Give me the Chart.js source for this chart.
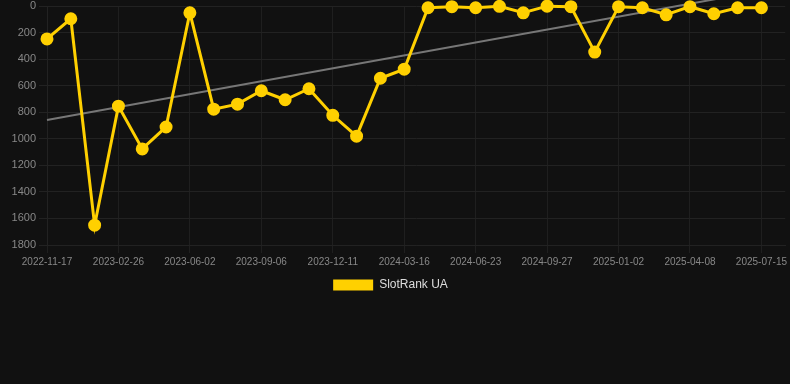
<!DOCTYPE html>
<html>
<head>
<meta charset="utf-8">
<script src="https://cdn.jsdelivr.net/npm/chart.js@4/dist/chart.umd.min.js"></script>
<style>
    body { margin: 0; background: #111111; }
    #wrap { width: 790px; height: 301px; position: relative; }
</style>
</head>
<body>
<div id="wrap"><canvas id="rankChart"></canvas></div>

<script>
    // dates of each sample (last slot is empty, only the trend reaches it)
    const dates = [
        '2022-11-17', '2022-12-21', '2023-01-24', '2023-02-26', '2023-03-30', '2023-05-01',
        '2023-06-02', '2023-07-04', '2023-08-05', '2023-09-06', '2023-10-08', '2023-11-09',
        '2023-12-11', '2024-01-12', '2024-02-13', '2024-03-16', '2024-04-18', '2024-05-21',
        '2024-06-23', '2024-07-25', '2024-08-26', '2024-09-27', '2024-10-29', '2024-12-01',
        '2025-01-02', '2025-02-03', '2025-03-07', '2025-04-08', '2025-05-10', '2025-06-12',
        '2025-07-15', ''
    ];

    const rankUA = [
        248, 96, 1651, 754, 1076, 911,
        51, 777, 739, 638, 706, 623,
        823, 980, 544, 476, 13, 5,
        13, 2, 51, 1, 5, 347,
        5, 13, 66, 5, 58, 13,
        13
    ];

    const trendStart = 858;
    const trendEnd = -147;

    const trendData = dates.map((d, i) => i === 0 ? trendStart : (i === dates.length - 1 ? trendEnd : null));

    const ctx = document.getElementById('rankChart').getContext('2d');
    new Chart(ctx, {
        type: 'line',
        data: {
            labels: dates,
            datasets: [
                {
                    label: 'SlotRank UA',
                    data: rankUA,
                    borderColor: '#ffd000',
                    backgroundColor: '#ffd000',
                    borderWidth: 3,
                    pointRadius: 5,
                    pointHoverRadius: 5,
                    tension: 0,
                    clip: false,
                    fill: false
                },
                {
                    label: 'trend',
                    data: trendData,
                    borderColor: '#777777',
                    borderWidth: 2,
                    pointRadius: 0,
                    spanGaps: true,
                    clip: false,
                    fill: false
                }
            ]
        },
        options: {
            animation: false,
            responsive: true,
            maintainAspectRatio: false,
            layout: { autoPadding: false, padding: { left: -9, right: 0, top: 0, bottom: 0 } },
            plugins: {
                legend: {
                    position: 'bottom',
                    labels: {
                        color: '#dddddd',
                        font: { size: 12 },
                        boxWidth: 40,
                        boxHeight: 11,
                        padding: 8,
                        filter: item => item.text !== 'trend',
                        generateLabels: chart => Chart.defaults.plugins.legend.labels.generateLabels(chart)
                            .map(item => Object.assign(item, { lineWidth: 0 }))
                    }
                },
                tooltip: { enabled: false }
            },
            scales: {
                x: {
                    grid: { color: '#1f1f1f' },
                    border: { color: '#222222' },
                    ticks: { color: '#888888', font: { size: 10 }, maxRotation: 0 }
                },
                y: {
                    reverse: true,
                    min: 0,
                    max: 1800,
                    afterFit: scale => { scale.width = 56; },
                    grid: { color: '#222222' },
                    border: { color: '#222222' },
                    ticks: {
                        color: '#888888',
                        font: { size: 11, lineHeight: 0.55 },
                        stepSize: 200,
                        callback: value => String(value)
                    }
                }
            }
        }
    });
</script>
</body>
</html>
